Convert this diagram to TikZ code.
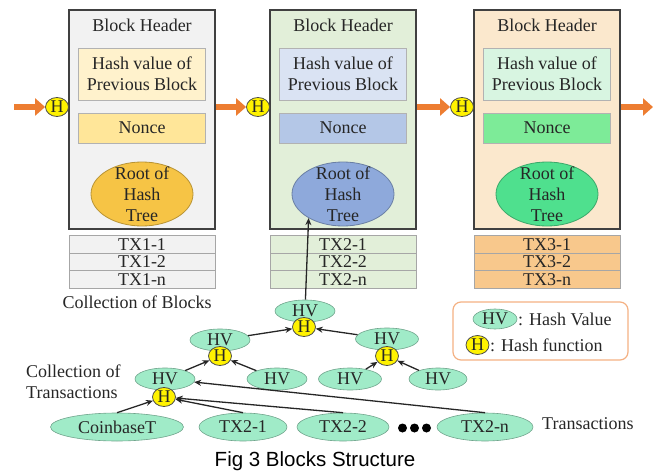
\documentclass[tikz,border=0pt]{standalone}
\usepackage{fontspec}
\setmainfont{Liberation Serif}
\newfontfamily\capfont{Liberation Sans}
\usetikzlibrary{arrows.meta,shapes.geometric}

\definecolor{bgA}{HTML}{F2F2F2}
\definecolor{hashA}{HTML}{FFF2CC}
\definecolor{nonceA}{HTML}{FFE699}
\definecolor{rootA}{HTML}{F6C445}
\definecolor{txA}{HTML}{F2F2F2}
\definecolor{bgB}{HTML}{E2EFD9}
\definecolor{hashB}{HTML}{DAE3F3}
\definecolor{nonceB}{HTML}{B4C7E7}
\definecolor{rootB}{HTML}{8EA9DB}
\definecolor{txB}{HTML}{E2EFD9}
\definecolor{bgC}{HTML}{FBE8CD}
\definecolor{hashC}{HTML}{D8F5E1}
\definecolor{nonceC}{HTML}{7DEB98}
\definecolor{rootC}{HTML}{4FE08E}
\definecolor{txC}{HTML}{F8C88C}
\definecolor{hvmint}{HTML}{A0EBC8}
\definecolor{chainorange}{HTML}{ED7D31}
\definecolor{legline}{HTML}{F4B183}

\begin{document}
\begin{tikzpicture}[x=1pt,y=-1pt,font=\fontsize{18}{21}\selectfont,text=black!85,
  every node/.style={inner sep=1pt},
  blockbox/.style={draw=black!75,line width=1.8pt,minimum width=146pt,minimum height=219pt},
  innerbox/.style={draw=black!30,line width=0.6pt,minimum width=127pt,align=center},
  rootell/.style={ellipse,line width=0.8pt,minimum width=102pt,minimum height=64pt,inner sep=0pt},
  txrow/.style={draw=black!35,line width=0.6pt,minimum width=146pt,minimum height=17.5pt,inner sep=0pt},
  hvell/.style={ellipse,draw=hvmint!70!black,fill=hvmint,line width=0.6pt,minimum width=60pt,minimum height=22pt,inner sep=0pt},
  hfun/.style={ellipse,draw=black!70,fill=yellow,line width=0.8pt,minimum width=23pt,minimum height=19pt,inner sep=0pt},
  tarrow/.style={-{Stealth[length=7pt,width=6pt]},line width=1.3pt,black!85},
  orarrow/.style={-{Triangle[length=10pt,width=17pt]},line width=6pt,chainorange}]
  \useasboundingbox (0,0) rectangle (653,476);

  % the three blocks
  \foreach \bx/\k/\cbg/\chash/\cnonce/\croot/\ctx in {%
    142/1/bgA/hashA/nonceA/rootA/txA,
    343/2/bgB/hashB/nonceB/rootB/txB,
    547/3/bgC/hashC/nonceC/rootC/txC}
  {
    \begin{scope}[shift={(\bx,0)}]
      \node[blockbox,fill=\cbg] (blk\k) at (0,119.5) {};
      \node (hdr\k) at (0,25) {Block Header};
      \node[innerbox,fill=\chash,minimum height=52pt] (prev\k) at (0,74) {Hash value of\\Previous Block};
      \node[innerbox,fill=\cnonce,minimum height=30pt] (nonce\k) at (0,128) {Nonce};
      \node[rootell,draw=\croot!75!black,fill=\croot,
        label={[align=center]center:{Root of\\Hash\\Tree}}] (root\k) at (0,194) {};
      \foreach \r/\t/\ty in {1/1/244.5, 2/2/262, 3/n/279.5}
        \node[txrow,fill=\ctx] (tx\k\r) at (0,\ty) {TX\k-\t};
      \node[hfun] (h\k) at (-85,107) {H};
    \end{scope}
  }
  \node (blkcap) at (137,302) {Collection of Blocks};

  % chain arrows
  \coordinate (chainin) at (14,107);
  \coordinate (chainout) at (653,107);
  \draw[orarrow] (chainin) -- (h1.west);
  \draw[orarrow] (blk1.east |- h2) -- (h2.west);
  \draw[orarrow] (blk2.east |- h3) -- (h3.west);
  \draw[orarrow] (blk3.east |- h3) -- (chainout);

  % hash tree
  \node[hvell] (hvT) at (305,311) {HV};
  \node[hfun] (hT) at (304,327) {H};
  \node[hvell] (hvA) at (220,340) {HV};
  \node[hfun] (hA) at (220,356) {H};
  \node[hvell,minimum width=63pt] (hvB) at (387,339) {HV};
  \node[hfun] (hB) at (387,356) {H};
  \node[hvell] (hvA1) at (165,379) {HV};
  \node[hfun] (hA1) at (164,397) {H};
  \node[hvell] (hvA2) at (277,379) {HV};
  \node[hvell,minimum width=63pt] (hvB1) at (350,379) {HV};
  \node[hvell,minimum width=58pt] (hvB2) at (438,379) {HV};
  \node[hvell,minimum width=133pt,minimum height=28pt] (cb) at (117,427) {CoinbaseT};
  \node[hvell,minimum width=88pt,minimum height=28pt] (txa) at (243,427) {TX2-1};
  \node[hvell,minimum width=92pt,minimum height=28pt] (txb) at (343,427) {TX2-2};
  \node[hvell,minimum width=96pt,minimum height=28pt] (txn) at (485,427) {TX2-n};
  \foreach \dx in {402.5,414.5,426.5}
    \fill[black] (\dx,428) circle (4.5);

  \draw[tarrow] (hvT) -- (root2.215);
  \draw[tarrow] (hvA) -- (hT);
  \draw[tarrow] (hvB) -- (hT);
  \draw[tarrow] (hvA1) -- (hA);
  \draw[tarrow] (hvA2) -- (hA);
  \draw[tarrow] (hvB1) -- (hB);
  \draw[tarrow] (hvB2) -- (hB);
  \draw[tarrow] (cb.north) -- (hA1);
  \draw[tarrow] (txa.north) -- (hA1);
  \draw[tarrow] (txb.north) -- (hA1);
  \draw[tarrow] (txn.north) -- (hvA1);

  \node[anchor=west,align=left] (txcap) at (25,382) {Collection of\\Transactions};
  \node[anchor=west] (txlbl) at (541,424) {Transactions};

  % legend
  \node[draw=legline,line width=1.2pt,rounded corners=8pt,minimum width=175pt,minimum height=58pt] (leg) at (540.5,331) {};
  \node[hvell,minimum width=44pt,minimum height=20pt] (leghv) at (495,319) {HV};
  \node[anchor=west] (leghvt) at (517,319) {: Hash Value};
  \node[hfun] (legh) at (477.5,345) {H};
  \node[anchor=west] (leght) at (489,345) {: Hash function};

  \node[font=\capfont\fontsize{20.5}{24}\selectfont,text=black] (figcap) at (315,461) {Fig 3 Blocks Structure};
\end{tikzpicture}
\end{document}
